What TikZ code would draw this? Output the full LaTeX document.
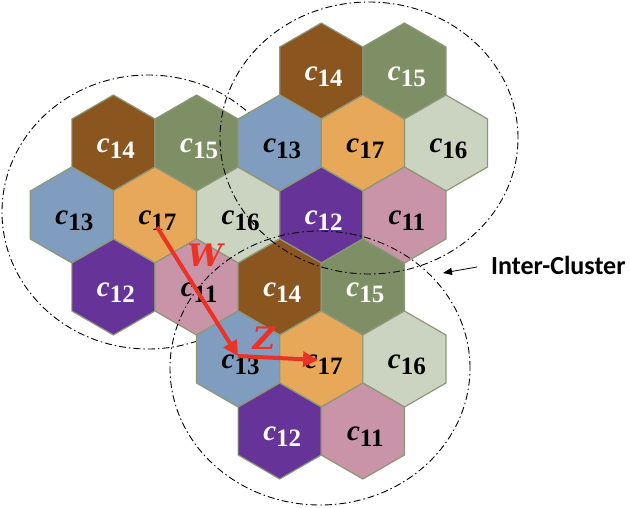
\documentclass[tikz,border=0pt]{standalone}
\usepackage{fontspec}
\setmainfont{Liberation Serif}
\newfontfamily\labfont{Liberation Serif}
\newfontfamily\heavyfont{DejaVu Serif}
\newfontfamily\calfont{Carlito}
\usetikzlibrary{shapes.geometric,arrows.meta}

\definecolor{cA}{HTML}{C994A7}
\definecolor{cB}{HTML}{663399}
\definecolor{cC}{HTML}{809CBF}
\definecolor{cD}{HTML}{8B5520}
\definecolor{cE}{HTML}{7F8F65}
\definecolor{cF}{HTML}{CBD3C1}
\definecolor{cG}{HTML}{E8A85A}
\definecolor{hexline}{HTML}{8C9878}
\definecolor{arrred}{HTML}{EA3324}

\newcommand{\celllab}[1]{\hspace*{5pt}{\fontsize{29}{29}\selectfont\bfseries\itshape c}\raisebox{-6pt}{\fontsize{25}{25}\selectfont\bfseries #1}}

\tikzset{
  hexcell/.style={regular polygon, regular polygon sides=6, regular polygon rotate=30,
    minimum size=96pt, inner sep=0pt, outer sep=0pt, draw=hexline, line width=1.2pt,
    text height=19pt, text depth=0pt, font=\labfont},
  clusterring/.style={draw=black, line width=0.9pt, dash pattern=on 7pt off 3pt on 1.5pt off 3pt},
  redarrow/.style={draw=arrred, line width=4pt, -{Triangle[length=15pt,width=15pt]}},
  redlab/.style={text=arrred, font=\heavyfont\fontsize{31}{31}\selectfont\bfseries\itshape, inner sep=0pt},
}

\begin{document}
\begin{tikzpicture}[x=1pt,y=-1pt]
\useasboundingbox (0,0) rectangle (630,508);

% ring of the first cluster (lies behind the other clusters)
\draw[clusterring] (148,212) ellipse [x radius=146pt, y radius=137pt];

\foreach \cn/\cx/\cy in {a/155/215, b/362.85/143, c/321.28/359} {
  \foreach \k/\dx/\dy/\fc/\tc in {14/-41.57/-72/cD/white, 15/41.57/-72/cE/white,
      13/-83.14/0/cC/black, 17/0/0/cG/black, 16/83.14/0/cF/black,
      12/-41.57/72/cB/white, 11/41.57/72/cA/black} {
    \node[hexcell, fill=\fc, text=\tc] (\cn\k) at (\cx+\dx, \cy+\dy) {\celllab{\k}};
  }
}

% rings of the other two clusters
\draw[clusterring] (369,138) ellipse [x radius=149pt, y radius=136pt];
\draw[clusterring] (320,368) ellipse [x radius=150pt, y radius=137pt];

% red vectors
\coordinate (w0) at (157,227);
\coordinate (w1) at (238,356);
\coordinate (z1) at (318,360);
\draw[redarrow] (w0) -- (w1);
\draw[redarrow] (w1) -- (z1);
\node[redlab] (wl) at (205,255) {W};
\node[redlab] (zl) at (264,338) {Z};

% inter-cluster label
\node[anchor=base west, inner sep=0pt, font=\calfont\bfseries\fontsize{26}{26}\selectfont] (ic) at (491,275) {Inter-Cluster};
\coordinate (icA) at (477,267);
\coordinate (icB) at (443,273);
\draw[line width=0.8pt, -{Triangle[length=9pt,width=7pt]}] (icA) -- (icB);
\end{tikzpicture}
\end{document}
